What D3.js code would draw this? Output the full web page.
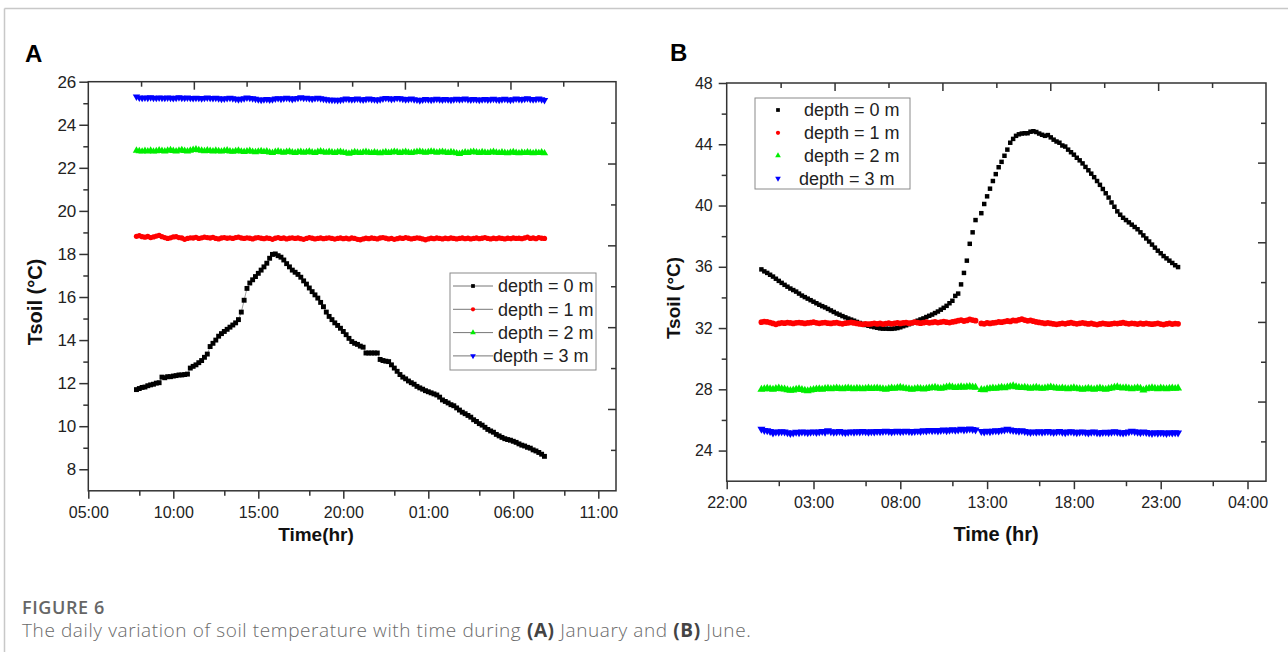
<!DOCTYPE html>
<html><head><meta charset="utf-8">
<script src="https://cdn.jsdelivr.net/npm/d3@7"></script>
<style>
html,body{margin:0;padding:0;background:#fff;}
svg{display:block;}
</style></head><body>
<svg id="c" width="1288" height="652"></svg>
<script>
// ---------------- DATA ----------------
const seriesNames = ["depth = 0 m", "depth = 1 m", "depth = 2 m", "depth = 3 m"];
const sampleStepHours = 10 / 60;

// Panel A (January): samples every 10 min from 07:50
const janStartHour = 7 + 50 / 60;
const janDepth0 = [
11.70,11.75,11.80,11.82,11.88,11.92,11.95,12.00,12.02,12.28,
12.25,12.30,12.30,12.33,12.35,12.38,12.38,12.40,12.42,12.70,
12.78,12.85,12.95,13.05,13.20,13.35,13.70,13.85,14.00,14.18,
14.30,14.40,14.50,14.60,14.70,14.80,14.95,15.30,15.85,16.40,
16.65,16.80,16.95,17.10,17.25,17.40,17.57,17.80,17.98,18.00,
17.92,17.85,17.72,17.55,17.40,17.25,17.15,17.05,16.92,16.75,
16.60,16.42,16.25,16.10,15.95,15.75,15.55,15.30,15.10,14.95,
14.80,14.68,14.55,14.40,14.25,14.08,13.93,13.85,13.80,13.72,
13.67,13.40,13.40,13.40,13.40,13.40,13.10,13.05,13.02,13.00,
12.85,12.70,12.55,12.40,12.28,12.20,12.10,12.02,11.95,11.85,
11.78,11.72,11.65,11.60,11.55,11.50,11.45,11.35,11.22,11.15,
11.08,11.00,10.95,10.85,10.75,10.65,10.58,10.50,10.42,10.30,
10.22,10.12,10.05,9.95,9.85,9.78,9.72,9.62,9.55,9.48,
9.42,9.38,9.35,9.30,9.25,9.18,9.12,9.08,9.02,8.98,
8.90,8.85,8.78,8.70,8.60];
const janDepth1 = [
18.82,18.85,18.80,18.78,18.81,18.76,18.79,18.83,18.86,18.80,
18.76,18.72,18.75,18.79,18.80,18.76,18.74,18.68,18.72,18.75,
18.74,18.77,18.72,18.75,18.78,18.76,18.74,18.77,18.72,18.70,
18.74,18.76,18.73,18.75,18.72,18.76,18.78,18.74,18.72,18.75,
18.73,18.70,18.74,18.76,18.73,18.71,18.74,18.72,18.68,18.73,
18.76,18.72,18.74,18.70,18.73,18.75,18.72,18.74,18.71,18.68,
18.72,18.76,18.73,18.70,18.72,18.74,18.71,18.73,18.75,18.72,
18.69,18.72,18.74,18.71,18.73,18.70,18.74,18.72,18.68,18.66,
18.70,18.73,18.71,18.74,18.72,18.70,18.74,18.76,18.73,18.70,
18.72,18.68,18.71,18.74,18.72,18.76,18.73,18.70,18.72,18.75,
18.73,18.70,18.66,18.70,18.73,18.71,18.74,18.72,18.70,18.73,
18.71,18.74,18.72,18.70,18.72,18.74,18.71,18.73,18.70,18.72,
18.74,18.71,18.73,18.76,18.72,18.70,18.73,18.71,18.74,18.72,
18.70,18.73,18.71,18.74,18.72,18.73,18.71,18.74,18.78,18.72,
18.74,18.71,18.76,18.73,18.72];
const janDepth2 = [
22.80,22.78,22.76,22.79,22.77,22.80,22.76,22.78,22.81,22.79,
22.77,22.80,22.82,22.79,22.77,22.80,22.83,22.79,22.77,22.80,
22.84,22.86,22.82,22.80,22.78,22.81,22.79,22.77,22.80,22.78,
22.76,22.79,22.81,22.77,22.75,22.78,22.80,22.76,22.74,22.77,
22.79,22.75,22.73,22.76,22.78,22.74,22.77,22.72,22.70,22.74,
22.77,22.73,22.71,22.74,22.76,22.72,22.70,22.73,22.75,22.71,
22.73,22.76,22.72,22.70,22.74,22.77,22.73,22.71,22.74,22.72,
22.70,22.73,22.75,22.71,22.69,22.66,22.70,22.73,22.71,22.69,
22.72,22.74,22.71,22.69,22.72,22.70,22.68,22.71,22.73,22.70,
22.72,22.75,22.73,22.70,22.72,22.74,22.71,22.69,22.72,22.74,
22.76,22.73,22.71,22.73,22.76,22.74,22.71,22.73,22.75,22.72,
22.70,22.73,22.71,22.68,22.65,22.69,22.72,22.70,22.73,22.75,
22.72,22.70,22.73,22.71,22.69,22.72,22.74,22.71,22.69,22.72,
22.70,22.68,22.71,22.73,22.70,22.68,22.71,22.69,22.72,22.70,
22.68,22.71,22.69,22.72,22.68];
const janDepth3 = [
25.30,25.26,25.24,25.26,25.25,25.27,25.25,25.24,25.26,25.25,
25.24,25.26,25.25,25.23,25.25,25.27,25.25,25.24,25.26,25.24,
25.23,25.25,25.24,25.22,25.24,25.26,25.24,25.23,25.25,25.22,
25.20,25.21,25.23,25.25,25.22,25.20,25.18,25.20,25.22,25.26,
25.24,25.22,25.20,25.17,25.15,25.17,25.19,25.16,25.18,25.21,
25.23,25.20,25.22,25.25,25.22,25.19,25.22,25.24,25.27,25.24,
25.25,25.22,25.20,25.23,25.25,25.22,25.20,25.18,25.16,25.15,
25.15,25.14,25.15,25.18,25.21,25.19,25.17,25.19,25.21,25.18,
25.16,25.19,25.21,25.19,25.17,25.15,25.18,25.21,25.24,25.22,
25.19,25.21,25.24,25.22,25.20,25.17,25.19,25.21,25.18,25.16,
25.13,25.16,25.19,25.17,25.15,25.18,25.20,25.18,25.16,25.19,
25.17,25.15,25.18,25.20,25.17,25.19,25.21,25.18,25.16,25.19,
25.17,25.15,25.17,25.19,25.16,25.18,25.20,25.17,25.15,25.18,
25.20,25.17,25.15,25.18,25.21,25.19,25.17,25.20,25.22,25.19,
25.17,25.19,25.21,25.18,25.14];

// Panel B (June): samples every 10 min from 00:00 (one missing sample near 12:30)
const junStartHour = 24;
const junDepth0 = [
35.83,35.70,35.60,35.48,35.36,35.22,35.08,34.95,34.82,34.70,
34.58,34.48,34.38,34.25,34.12,34.02,33.92,33.82,33.72,33.62,
33.52,33.43,33.35,33.25,33.15,33.05,32.95,32.87,32.78,32.70,
32.62,32.55,32.48,32.40,32.33,32.27,32.20,32.15,32.10,32.06,
32.02,31.98,31.96,31.96,31.95,31.95,31.97,32.00,32.05,32.12,
32.18,32.25,32.32,32.40,32.48,32.56,32.63,32.72,32.80,32.88,
32.98,33.08,33.20,33.32,33.45,33.62,33.78,34.10,34.25,34.85,
35.60,36.40,37.50,38.25,39.05,null,39.50,40.10,40.60,41.10,
41.60,42.05,42.50,42.85,43.25,43.65,44.10,44.35,44.55,44.65,
44.70,44.72,44.72,44.82,44.85,44.80,44.70,44.62,44.55,44.60,
44.45,44.30,44.18,44.10,43.92,43.85,43.65,43.48,43.32,43.12,
42.95,42.75,42.52,42.30,42.08,41.85,41.60,41.35,41.08,40.80,
40.52,40.20,39.92,39.62,39.40,39.20,39.05,38.90,38.75,38.60,
38.45,38.25,38.05,37.85,37.65,37.45,37.25,37.05,36.88,36.70,
36.55,36.40,36.25,36.10,35.98];
const junDepth1 = [
32.38,32.42,32.40,32.36,32.30,32.24,32.30,32.34,32.32,32.36,
32.33,32.30,32.34,32.36,32.33,32.30,32.33,32.35,32.38,32.34,
32.31,32.34,32.36,32.32,32.30,32.33,32.35,32.31,32.28,32.32,
32.34,32.37,32.33,32.30,32.27,32.24,32.28,32.25,32.28,32.31,
32.27,32.30,32.26,32.29,32.32,32.28,32.31,32.34,32.30,32.33,
32.36,32.32,32.34,32.38,32.35,32.32,32.35,32.38,32.34,32.37,
32.40,32.36,32.39,32.42,32.38,32.36,32.40,32.43,32.48,32.52,
32.46,32.50,32.56,32.52,32.48,null,32.30,32.28,32.33,32.30,
32.33,32.36,32.40,32.38,32.42,32.46,32.43,32.50,32.48,32.54,
32.58,32.52,32.47,32.50,32.45,32.40,32.37,32.34,32.30,32.33,
32.30,32.27,32.24,32.28,32.31,32.28,32.32,32.35,32.31,32.28,
32.31,32.34,32.30,32.27,32.30,32.26,32.23,32.27,32.30,32.28,
32.25,32.28,32.31,32.29,32.32,32.35,32.31,32.28,32.31,32.29,
32.26,32.30,32.27,32.31,32.28,32.25,32.28,32.31,32.26,32.23,
32.27,32.30,32.26,32.29,32.28];
const junDepth2 = [
28.00,28.02,28.06,28.03,28.00,28.04,28.07,28.03,28.01,27.96,
27.92,27.95,28.00,28.03,27.98,27.93,27.90,27.94,27.98,28.01,
28.03,28.00,28.04,28.06,28.02,28.05,28.08,28.04,28.02,28.06,
28.08,28.05,28.03,28.06,28.04,28.02,28.05,28.07,28.04,28.06,
28.08,28.05,28.02,28.00,28.04,28.07,28.05,28.09,28.12,28.08,
28.05,28.02,28.00,28.03,28.06,28.04,28.01,28.04,28.07,28.10,
28.12,28.08,28.05,28.09,28.14,28.18,28.14,28.10,28.13,28.16,
28.12,28.15,28.18,28.14,28.12,null,27.98,27.96,28.02,28.05,
28.08,28.05,28.09,28.12,28.09,28.14,28.18,28.22,28.16,28.12,
28.10,28.13,28.09,28.06,28.09,28.12,28.08,28.05,28.08,28.11,
28.14,28.10,28.07,28.05,28.08,28.05,28.02,28.06,28.09,28.05,
28.02,27.99,28.03,28.06,28.03,28.00,28.04,28.07,28.03,28.00,
28.04,28.08,28.12,28.15,28.10,28.07,28.10,28.06,28.03,28.06,
28.10,28.06,27.95,28.02,28.06,28.09,28.06,28.03,28.07,28.05,
28.02,28.06,28.08,28.05,28.07];
const junDepth3 = [
25.40,25.32,25.30,25.26,25.15,25.22,25.20,25.24,25.22,25.18,
25.12,25.16,25.20,25.18,25.22,25.20,25.17,25.20,25.23,25.19,
25.22,25.25,25.21,25.30,25.24,25.20,25.22,25.25,25.21,25.18,
25.20,25.23,25.20,25.24,25.22,25.26,25.23,25.21,25.24,25.22,
25.25,25.23,25.26,25.28,25.25,25.22,25.25,25.27,25.24,25.26,
25.28,25.25,25.23,25.26,25.28,25.26,25.30,25.28,25.33,25.30,
25.32,25.29,25.32,25.35,25.31,25.34,25.37,25.33,25.36,25.40,
25.36,25.38,25.42,25.39,25.36,null,25.25,25.22,25.27,25.24,
25.28,25.31,25.28,25.33,25.36,25.40,25.35,25.32,25.30,25.27,
25.30,25.26,25.22,25.19,25.23,25.21,25.24,25.20,25.23,25.26,
25.22,25.19,25.22,25.25,25.21,25.18,25.22,25.24,25.20,25.17,
25.20,25.23,25.19,25.16,25.20,25.22,25.18,25.15,25.19,25.21,
25.17,25.20,25.24,25.21,25.18,25.15,25.19,25.22,25.28,25.24,
25.21,25.18,25.22,25.19,25.16,25.13,25.17,25.14,25.18,25.16,
25.13,25.17,25.15,25.18,25.16];

// Axis ticks and labels
const janYTicks = [8, 10, 12, 14, 16, 18, 20, 22, 24, 26];
const janYMinor = [9, 11, 13, 15, 17, 19, 21, 23, 25];
const janXTicks = [5, 10, 15, 20, 25, 30, 35];
const janXLabels = ["05:00", "10:00", "15:00", "20:00", "01:00", "06:00", "11:00"];
const janXMinor = [8, 13, 18, 23, 28, 33];
const junYTicks = [24, 28, 32, 36, 40, 44, 48];
const junYMinor = [26, 30, 34, 38, 42, 46];
const junXTicks = [22, 27, 32, 37, 42, 47, 52];
const junXLabels = ["22:00", "03:00", "08:00", "13:00", "18:00", "23:00", "04:00"];
const junXMinor = [25, 30, 35, 40, 45, 50];
const mirrorMajor = [2, 4, 6, 8];
const mirrorMinor = [1, 3, 5, 7, 9];

// ---------------- DRAWING ----------------
const FONT = "'Liberation Sans', Arial, Helvetica, sans-serif";
const colors = ["#000000", "#ff0000", "#00ee00", "#0000ff"];
const shapes = [d3.symbolSquare, d3.symbolCircle, d3.symbolTriangle, d3.symbolTriangle];
const svg = d3.select("#c");

// card frame
svg.append("line").attr("x1", 4.5).attr("x2", 1288).attr("y1", 8.5).attr("y2", 8.5).attr("stroke", "#c8c8c8").attr("stroke-width", 1.5);
svg.append("line").attr("x1", 4.5).attr("x2", 4.5).attr("y1", 8.5).attr("y2", 652).attr("stroke", "#c8c8c8").attr("stroke-width", 1.5);

function symbolPath(k, size) {
  return d3.symbol().type(shapes[k]).size(size)();
}

function panel(cfg) {
  const g = svg.append("g");
  const x = d3.scaleLinear().domain(cfg.xDomain).range([cfg.left, cfg.right]);
  const y = d3.scaleLinear().domain(cfg.yDomain).range([cfg.bottom, cfg.top]);
  const mx = d3.scaleLinear().domain([0, 10]).range([cfg.left, cfg.right]);
  const my = d3.scaleLinear().domain([0, 10]).range([cfg.bottom, cfg.top]);

  function styleAxis(a, fs) {
    a.select(".domain").remove();
    a.selectAll(".tick line").attr("stroke", "#333").attr("stroke-width", 1.5);
    a.selectAll(".tick text").attr("fill", "#222").attr("font-family", FONT).attr("font-size", fs);
  }
  // bottom
  g.append("g").attr("transform", `translate(0,${cfg.bottom})`)
    .call(d3.axisBottom(x).tickValues(cfg.xTicks).tickFormat((d, i) => cfg.xLabels[i]).tickSize(8).tickPadding(cfg.xPad))
    .call(a => styleAxis(a, cfg.xFs));
  g.append("g").attr("transform", `translate(0,${cfg.bottom})`)
    .call(d3.axisBottom(x).tickValues(cfg.xMinor).tickFormat("").tickSize(5))
    .call(a => styleAxis(a, 0));
  // left
  g.append("g").attr("transform", `translate(${cfg.left},0)`)
    .call(d3.axisLeft(y).tickValues(cfg.yTicks).tickFormat(d3.format("d")).tickSize(cfg.yTick).tickPadding(cfg.yPad))
    .call(a => styleAxis(a, cfg.yFs));
  g.append("g").attr("transform", `translate(${cfg.left},0)`)
    .call(d3.axisLeft(y).tickValues(cfg.yMinor).tickFormat("").tickSize(5))
    .call(a => styleAxis(a, 0));
  // top mirror (inward)
  g.append("g").attr("transform", `translate(0,${cfg.top})`)
    .call(d3.axisBottom(mx).tickValues(mirrorMajor).tickFormat("").tickSize(8)).call(a => styleAxis(a, 0));
  g.append("g").attr("transform", `translate(0,${cfg.top})`)
    .call(d3.axisBottom(mx).tickValues(mirrorMinor).tickFormat("").tickSize(5)).call(a => styleAxis(a, 0));
  // right mirror (inward)
  g.append("g").attr("transform", `translate(${cfg.right},0)`)
    .call(d3.axisLeft(my).tickValues(mirrorMajor).tickFormat("").tickSize(8)).call(a => styleAxis(a, 0));
  g.append("g").attr("transform", `translate(${cfg.right},0)`)
    .call(d3.axisLeft(my).tickValues(mirrorMinor).tickFormat("").tickSize(5)).call(a => styleAxis(a, 0));

  // frame
  g.append("rect").attr("x", cfg.left).attr("y", cfg.top)
    .attr("width", cfg.right - cfg.left).attr("height", cfg.bottom - cfg.top)
    .attr("fill", "none").attr("stroke", "#333").attr("stroke-width", 1.5);

  // series
  cfg.series.forEach((vals, k) => {
    const pts = vals.map((v, i) => ({ t: cfg.start + i * sampleStepHours, v: v }));
    const def = pts.filter(p => p.v != null);
    if (cfg.lines) {
      g.append("path").datum(pts)
        .attr("d", d3.line().defined(p => p.v != null).x(p => x(p.t)).y(p => y(p.v)))
        .attr("fill", "none").attr("stroke", "#888").attr("stroke-width", 0.8);
    }
    g.append("g").selectAll("path").data(def).join("path")
      .attr("d", symbolPath(k, cfg.markerSize[k]))
      .attr("transform", p => `translate(${x(p.t)},${y(p.v)})` + (k === 3 ? " rotate(180)" : ""))
      .attr("fill", colors[k]);
  });

  // legend
  const L = cfg.legend;
  g.append("rect").attr("x", L.x).attr("y", L.y).attr("width", L.w).attr("height", L.h)
    .attr("fill", "#fff").attr("stroke", "#8a8a8a").attr("stroke-width", 1);
  seriesNames.forEach((name, k) => {
    const cy = L.y + L.row0 + k * L.dy;
    if (cfg.lines) {
      g.append("line").attr("x1", L.lineX0).attr("x2", L.lineX1).attr("y1", cy).attr("y2", cy)
        .attr("stroke", "#777").attr("stroke-width", 1);
    }
    g.append("path").attr("d", symbolPath(k, 14))
      .attr("transform", `translate(${L.markX},${cy})` + (k === 3 ? " rotate(180)" : ""))
      .attr("fill", colors[k]);
    g.append("text").attr("x", k === 3 ? L.textX3 : L.textX).attr("y", cy).attr("dy", "0.36em")
      .attr("font-family", FONT).attr("font-size", 18).attr("fill", "#222").text(name);
  });

  // titles
  g.append("text").attr("x", cfg.xTitle[0]).attr("y", cfg.xTitle[1]).attr("text-anchor", "middle")
    .attr("font-family", FONT).attr("font-weight", "bold").attr("font-size", cfg.xTitle[2]).attr("fill", "#111")
    .text(cfg.xTitle[3]);
  g.append("text").attr("transform", `translate(${cfg.yTitle[0]},${cfg.yTitle[1]}) rotate(-90)`).attr("text-anchor", "middle")
    .attr("font-family", FONT).attr("font-weight", "bold").attr("font-size", cfg.yTitle[2]).attr("fill", "#111")
    .text("Tsoil (°C)");
  g.append("text").attr("x", cfg.letter[0]).attr("y", cfg.letter[1])
    .attr("font-family", FONT).attr("font-weight", "bold").attr("font-size", 24).attr("fill", "#000")
    .text(cfg.letter[2]);
}

panel({
  left: 88.3, right: 616, top: 81.7, bottom: 490.8,
  xDomain: [5, 5 + (616 - 88.3) / 17], yDomain: [7, 26],
  xTicks: janXTicks, xLabels: janXLabels, xMinor: janXMinor, xFs: 16, xPad: 8,
  yTicks: janYTicks, yMinor: janYMinor, yFs: 17, yPad: 3, yTick: 9,
  start: janStartHour, series: [janDepth0, janDepth1, janDepth2, janDepth3],
  lines: true, markerSize: [24, 22, 24, 24],
  legend: { x: 450, y: 273, w: 146, h: 97, row0: 13, dy: 23.3, lineX0: 453, lineX1: 493, markX: 473, textX: 498, textX3: 493 },
  xTitle: [316, 541, 19, "Time(hr)"], yTitle: [42, 302, 20], letter: [25, 62, "A"]
});

panel({
  left: 726.7, right: 1266, top: 83, bottom: 481.2,
  xDomain: [22, 22 + (1266 - 726.7) / 17.36], yDomain: [22, 48],
  xTicks: junXTicks, xLabels: junXLabels, xMinor: junXMinor, xFs: 16, xPad: 7.5,
  yTicks: junYTicks, yMinor: junYMinor, yFs: 16, yPad: 6, yTick: 8,
  start: junStartHour, series: [junDepth0, junDepth1, junDepth2, junDepth3],
  lines: false, markerSize: [20, 26, 28, 28],
  legend: { x: 755, y: 98, w: 155, h: 91, row0: 12, dy: 22.8, markX: 778, textX: 804, textX3: 799 },
  xTitle: [996, 541, 20, "Time (hr)"], yTitle: [680, 298, 19], letter: [670, 61, "B"]
});

// caption
const CFONT = "'Open Sans', 'Noto Sans', sans-serif";
svg.append("text").attr("x", 22).attr("y", 614).attr("font-family", CFONT).attr("font-weight", 600)
  .attr("font-size", 18).attr("letter-spacing", "0.6px").attr("fill", "#666").text("FIGURE 6");
const cap = svg.append("text").attr("x", 22).attr("y", 637).attr("font-family", CFONT)
  .attr("font-size", 19).attr("letter-spacing", "0.6px").attr("fill", "#6a6a6a");
[["The daily variation of soil temperature with time during ", 300], ["(A)", 700], [" January and ", 300], ["(B)", 700], [" June.", 300]]
  .forEach(([t, w]) => cap.append("tspan").attr("font-weight", w).attr("fill", w === 700 ? "#444" : "#6a6a6a").text(t));
</script>
</body></html>
